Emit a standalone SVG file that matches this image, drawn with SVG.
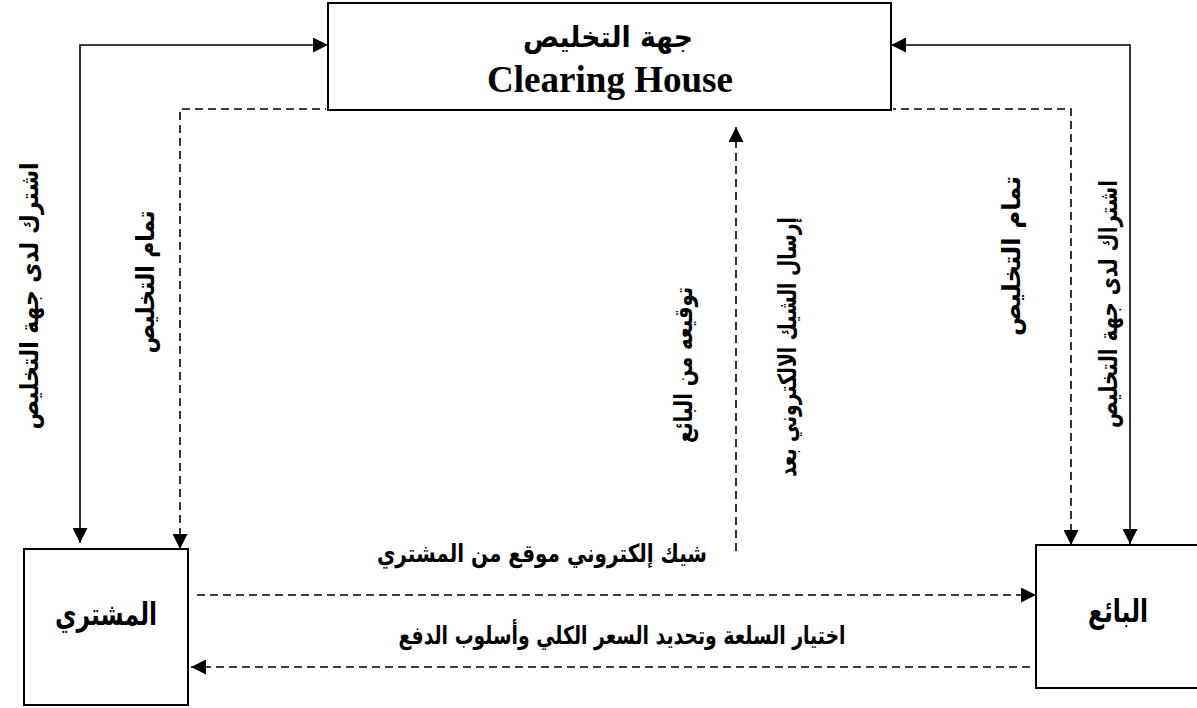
<svg xmlns="http://www.w3.org/2000/svg" width="1197" height="708" viewBox="0 0 1197 708">
  <style>
    .box { fill: #ffffff; stroke: #000000; stroke-width: 2; }
    .solid { fill: none; stroke: #000000; stroke-width: 1.6; }
    .dash { fill: none; stroke: #000000; stroke-width: 1.6; stroke-dasharray: 8 5; }
    .ar { font-family: 'DejaVu Sans', sans-serif; font-weight: bold; fill: #000000; text-anchor: middle; }
    .en { font-family: 'Liberation Serif', 'Times New Roman', serif; font-weight: bold; fill: #000000; text-anchor: middle; }
  </style>
  <defs>
    <marker id="arrow" markerUnits="userSpaceOnUse" markerWidth="15" markerHeight="15" refX="15" refY="7.5" orient="auto-start-reverse" viewBox="0 0 15 15">
      <path d="M0,0 L15,7.5 L0,15 Z" fill="#000000"/>
    </marker>
  </defs>

  <rect width="1197" height="708" fill="#ffffff"/>

  <!-- connectors -->
  <g id="connectors">
    <!-- buyer subscription with the clearing house -->
    <path class="solid" d="M80,543 V45 H328" marker-start="url(#arrow)" marker-end="url(#arrow)"/>
    <!-- clearing complete, back to the buyer -->
    <path class="dash" d="M180,549 V109 H326" marker-start="url(#arrow)"/>
    <!-- seller subscription with the clearing house -->
    <path class="solid" d="M1130,544 V45 H891" marker-start="url(#arrow)" marker-end="url(#arrow)"/>
    <!-- clearing complete, back to the seller -->
    <path class="dash" d="M1071,545 V109 H893" marker-start="url(#arrow)"/>
    <!-- signed cheque sent on to the clearing house -->
    <path class="dash" d="M736,551 V127" marker-end="url(#arrow)"/>
    <!-- buyer to seller -->
    <path class="dash" d="M197,595 H1036" marker-end="url(#arrow)"/>
    <!-- seller to buyer -->
    <path class="dash" d="M1030,667 H191" marker-end="url(#arrow)"/>
  </g>

  <!-- clearing house -->
  <g id="clearing-house">
    <rect class="box" x="328" y="3" width="563" height="107"/>
    <text class="ar" x="608" y="47" font-size="29" textLength="170" lengthAdjust="spacingAndGlyphs">جهة التخليص</text>
    <text class="en" x="610" y="92" font-size="37" textLength="246" lengthAdjust="spacingAndGlyphs">Clearing House</text>
  </g>

  <!-- buyer -->
  <g id="buyer">
    <rect class="box" x="24" y="549" width="164" height="156"/>
    <text class="ar" x="106" y="625" font-size="31" textLength="102" lengthAdjust="spacingAndGlyphs">المشتري</text>
  </g>

  <!-- seller -->
  <g id="seller">
    <rect class="box" x="1036" y="545" width="175" height="143"/>
    <text class="ar" x="1118" y="622" font-size="31" textLength="60" lengthAdjust="spacingAndGlyphs">البائع</text>
  </g>

  <!-- connector labels -->
  <g id="labels">
    <text class="ar" font-size="25" textLength="267" lengthAdjust="spacingAndGlyphs" transform="translate(38,296) rotate(-90)">اشترك لدى جهة التخليص</text>
    <text class="ar" font-size="25" textLength="143" lengthAdjust="spacingAndGlyphs" transform="translate(154,282) rotate(-90)">تمام التخليص</text>
    <text class="ar" font-size="25" textLength="156" lengthAdjust="spacingAndGlyphs" transform="translate(692,365) rotate(-90)">توقيعه من البائع</text>
    <text class="ar" font-size="25" textLength="260" lengthAdjust="spacingAndGlyphs" transform="translate(796,347) rotate(-90)">إرسال الشيك الالكتروني بعد</text>
    <text class="ar" font-size="25" textLength="160" lengthAdjust="spacingAndGlyphs" transform="translate(1020,256) rotate(-90)">تمام التخليص</text>
    <text class="ar" font-size="25" textLength="248" lengthAdjust="spacingAndGlyphs" transform="translate(1117,304) rotate(-90)">اشتراك لدى جهة التخليص</text>
    <text class="ar" x="542" y="562" font-size="25" textLength="330" lengthAdjust="spacingAndGlyphs">شيك إلكتروني موقع من المشتري</text>
    <text class="ar" x="622" y="644" font-size="25" textLength="447" lengthAdjust="spacingAndGlyphs">اختيار السلعة وتحديد السعر الكلي وأسلوب الدفع</text>
  </g>
</svg>
